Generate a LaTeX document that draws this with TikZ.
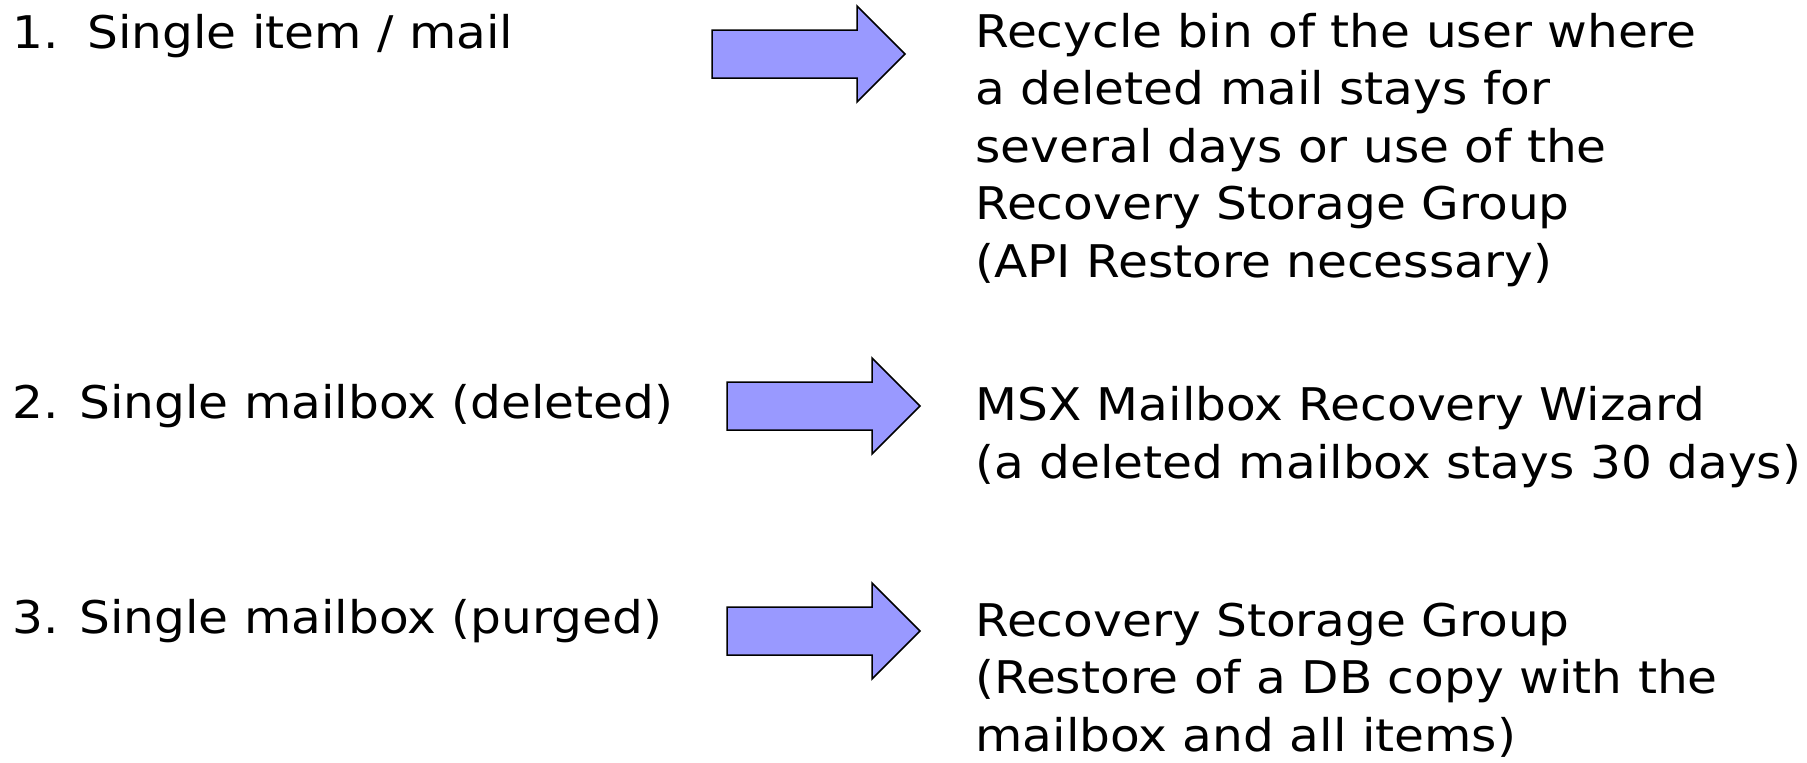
\documentclass[tikz,border=0pt]{standalone}
\usepackage{fontspec}
\setmainfont[FakeStretch=1.08]{DejaVu Sans}
\usepackage{tikz}
\definecolor{arrowblue}{RGB}{153,153,255}

\begin{document}
\begin{tikzpicture}[x=0.5pt,y=-0.5pt,
		txt/.style={anchor=base west, inner sep=0pt, align=left,
			font=\fontsize{22.5}{28.75}\selectfont},
		bigarrow/.style={draw=black, line width=0.75pt, fill=arrowblue, line join=miter}]
			\useasboundingbox (0,0) rectangle (1807,762);

			% cases
			\node[txt] (case1) at (12,48) {1.\hspace{4pt} Single item / mail};
			\node[txt] (case2) at (12,418) {2. Single mailbox (deleted)};
			\node[txt] (case3) at (12,633) {3. Single mailbox (purged)};

			% big arrows
			\foreach \x/\y in {712/54,727/406,727/631}
			\draw[bigarrow] (\x,\y-24) -- ++(145,0) -- ++(0,-24) -- ++(48,48)
				-- ++(-48,48) -- ++(0,-24) -- ++(-145,0) -- cycle;

			% solutions (anchored at the last line)
			\node[txt] (sol1) at (975,277) {Recycle bin of the user where\\a deleted mail stays for\\several days or use of the\\Recovery Storage Group\\(API Restore necessary)};
			\node[txt] (sol2) at (975,478) {MSX Mailbox Recovery Wizard\\(a deleted mailbox stays 30 days)};
			\node[txt] (sol3) at (975,751) {Recovery Storage Group\\(Restore of a DB copy with the\\mailbox and all items)};
		\end{tikzpicture}
\end{document}
